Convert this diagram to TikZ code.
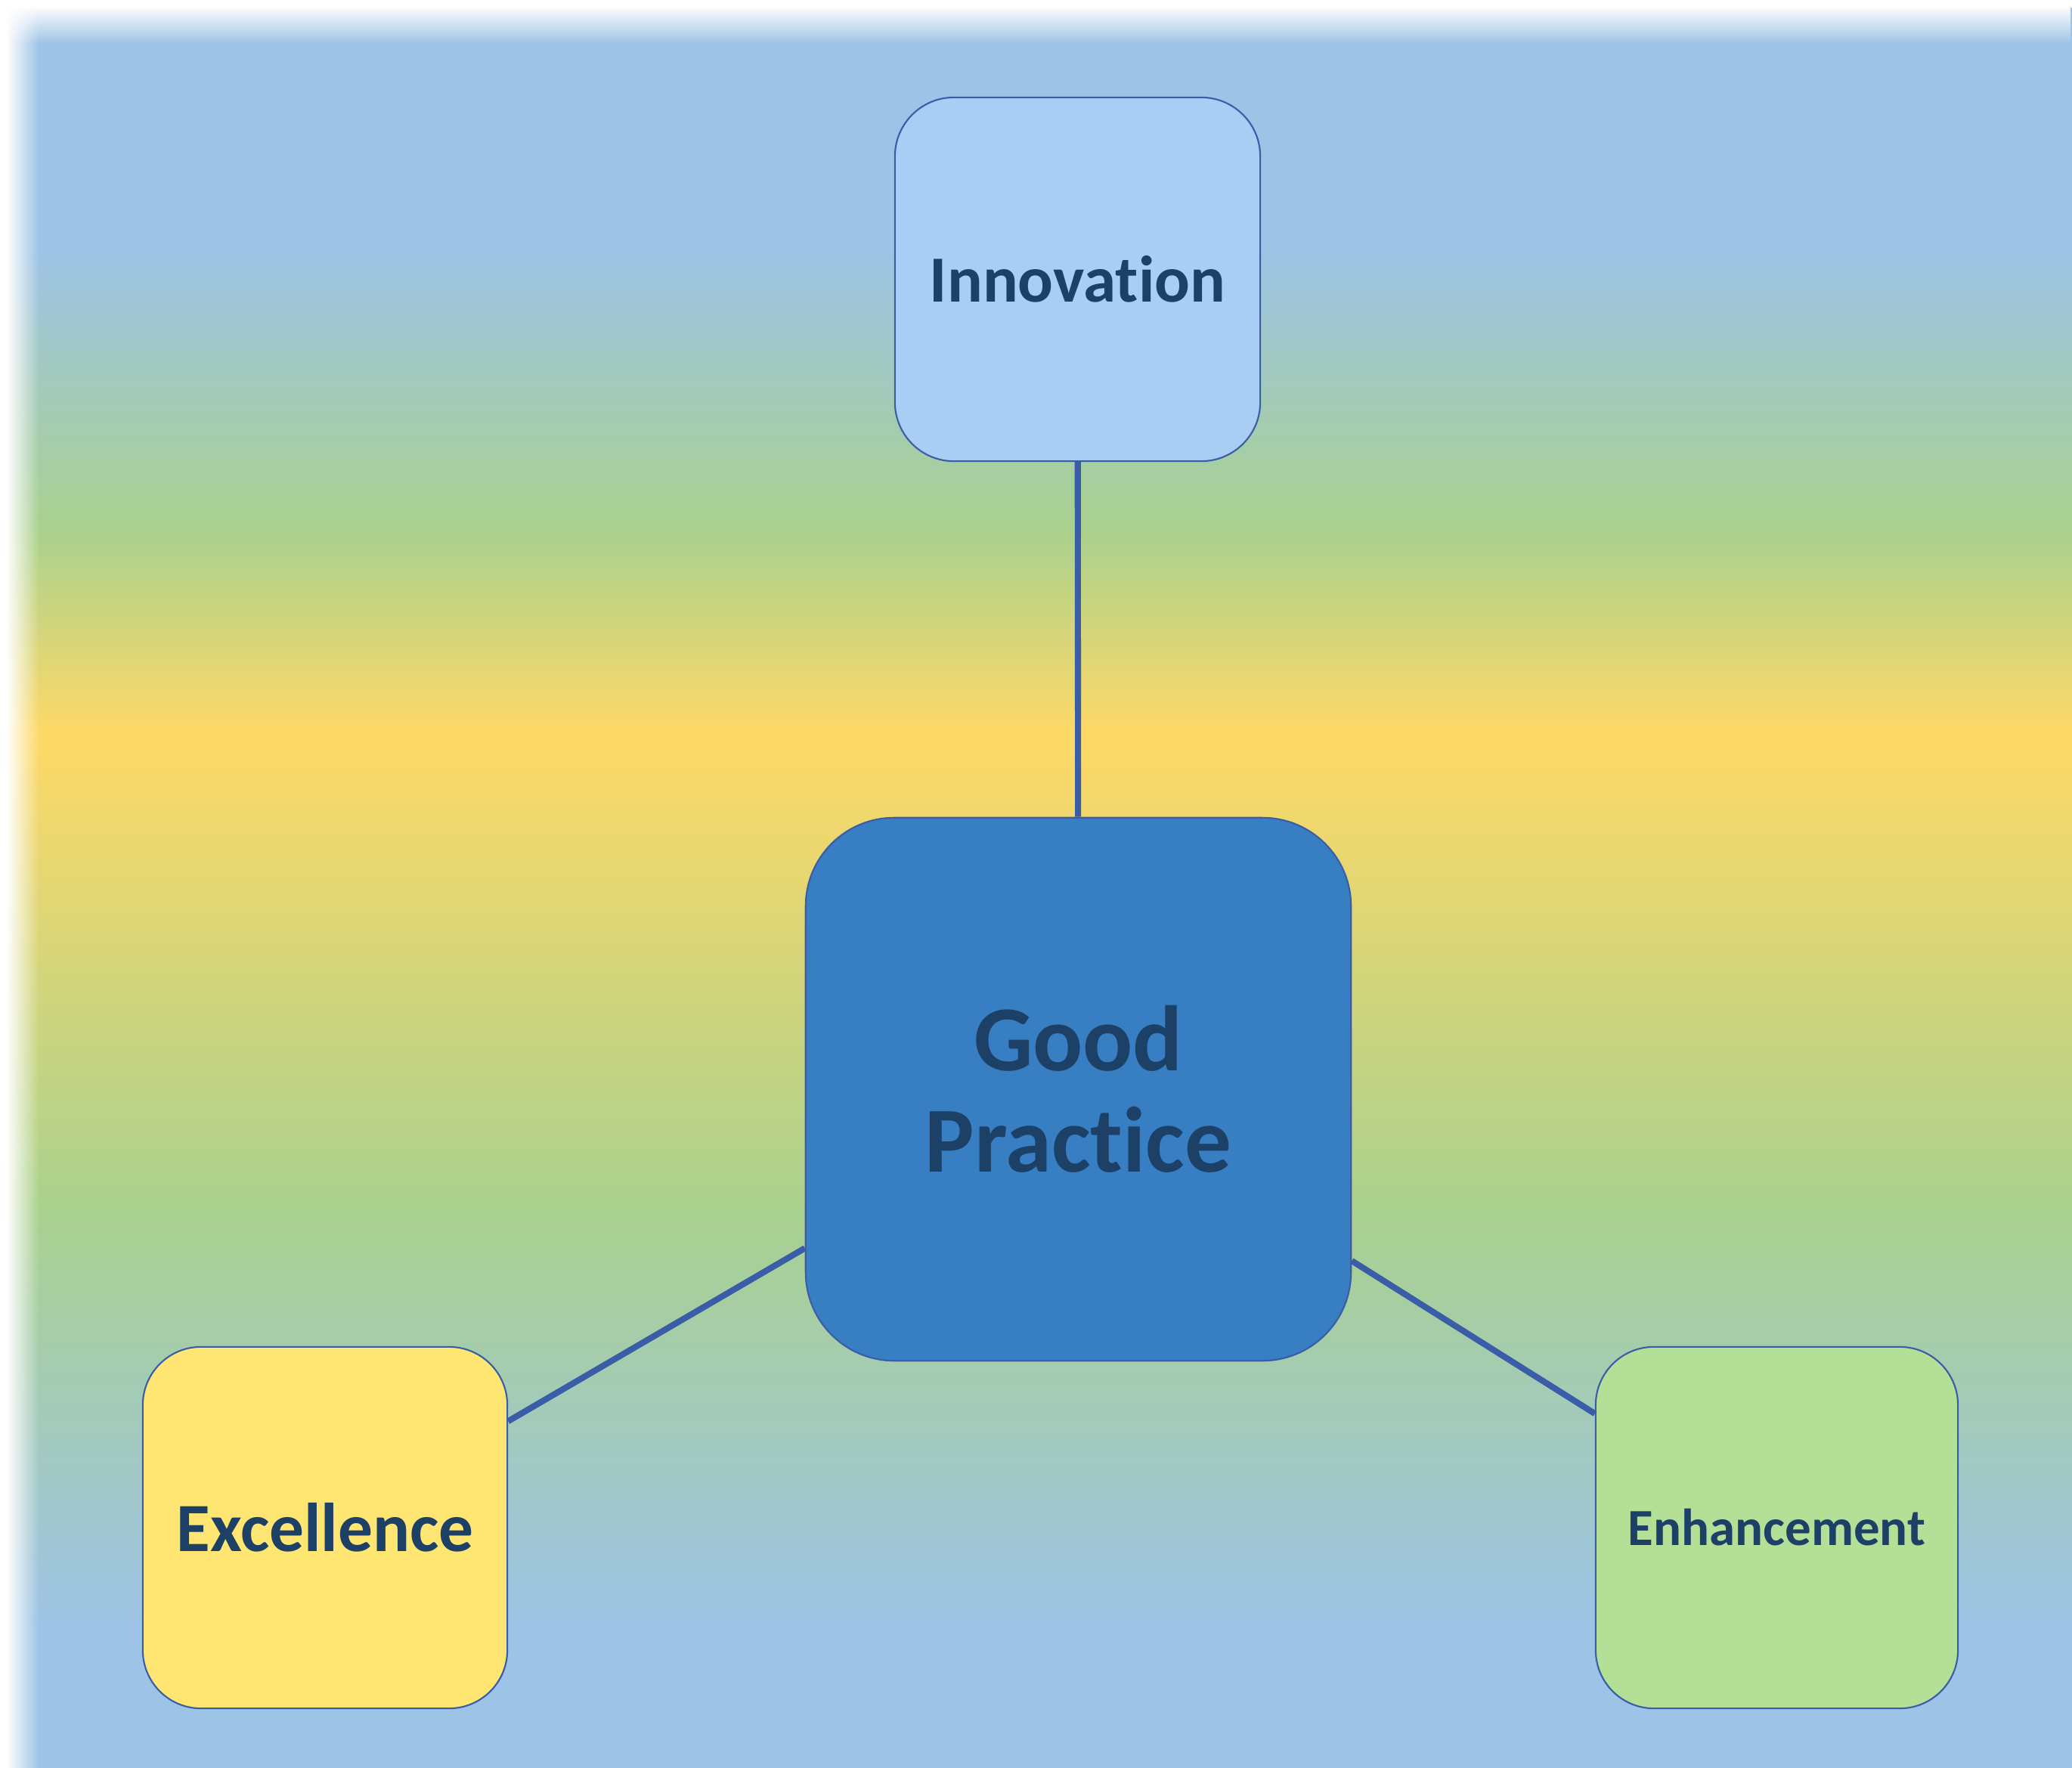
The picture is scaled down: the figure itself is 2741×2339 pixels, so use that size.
\documentclass[tikz,border=0pt]{standalone}
\usepackage{fontspec}
\setmainfont{Carlito}[Ligatures={NoCommon,NoContextual}]
\usetikzlibrary{fadings}
\definecolor{bgblue}{HTML}{9DC3E6}
\definecolor{bggreen}{HTML}{A9D18E}
\definecolor{bgyellow}{HTML}{FFD966}
\definecolor{linkc}{HTML}{3A5DA8}
\definecolor{txtc}{HTML}{1C4066}
\definecolor{innfill}{HTML}{A9CDF3}
\definecolor{gpfill}{HTML}{377EC2}
\definecolor{excfill}{HTML}{FFE571}
\definecolor{enhfill}{HTML}{B4DF97}
\tikzfading[name=wtop, top color=transparent!0, bottom color=transparent!100]
\tikzfading[name=wleft, left color=transparent!0, right color=transparent!100]
\begin{document}
\begin{tikzpicture}[x=0.01cm,y=-0.01cm,
  box/.style={draw=linkc, line width=0.6pt, rectangle, inner sep=0pt, text=txtc, align=center},
  link/.style={draw=linkc, line width=2.3pt}]
\useasboundingbox (0,0) rectangle (2741,2339);
% background
\fill[white] (0,0) rectangle (2741,2339);
\fill[bgblue] (10,10) rectangle (2741,332);
\shade[top color=bgblue, bottom color=bggreen] (10,330) rectangle (2741,702);
\shade[top color=bggreen, bottom color=bgyellow] (10,700) rectangle (2741,972);
\shade[top color=bgyellow, bottom color=bggreen] (10,970) rectangle (2741,1602);
\shade[top color=bggreen, bottom color=bgblue] (10,1600) rectangle (2741,2152);
\fill[bgblue] (10,2150) rectangle (2741,2339);
\fill[white, path fading=wtop] (0,8) rectangle (2741,58);
\fill[white, path fading=wleft] (8,0) rectangle (52,2339);
% nodes
\node[box, fill=innfill, minimum width=4.83cm, minimum height=4.81cm, rounded corners=0.78cm,
  font=\bfseries\fontsize{24.8}{30}\selectfont] (inn) at (1425.5,369.5) {Innovation};
\node[box, fill=gpfill, minimum width=7.21cm, minimum height=7.18cm, rounded corners=1.17cm,
  font=\bfseries\fontsize{35}{38}\selectfont] (gp) at (1426.5,1441) {Good\\Practice};
\node[box, fill=excfill, minimum width=4.82cm, minimum height=4.78cm, rounded corners=0.77cm,
  font=\bfseries\fontsize{26}{31}\selectfont] (exc) at (430,2021) {Excellence};
\node[box, fill=enhfill, minimum width=4.79cm, minimum height=4.78cm, rounded corners=0.77cm,
  font=\bfseries\fontsize{19.6}{24}\selectfont] (enh) at (2350.5,2021) {Enhancement};
% connectors
\draw[link] (inn) -- (gp);
\draw[link] (gp) -- (exc);
\draw[link] (gp) -- (enh);
\end{tikzpicture}
\end{document}
